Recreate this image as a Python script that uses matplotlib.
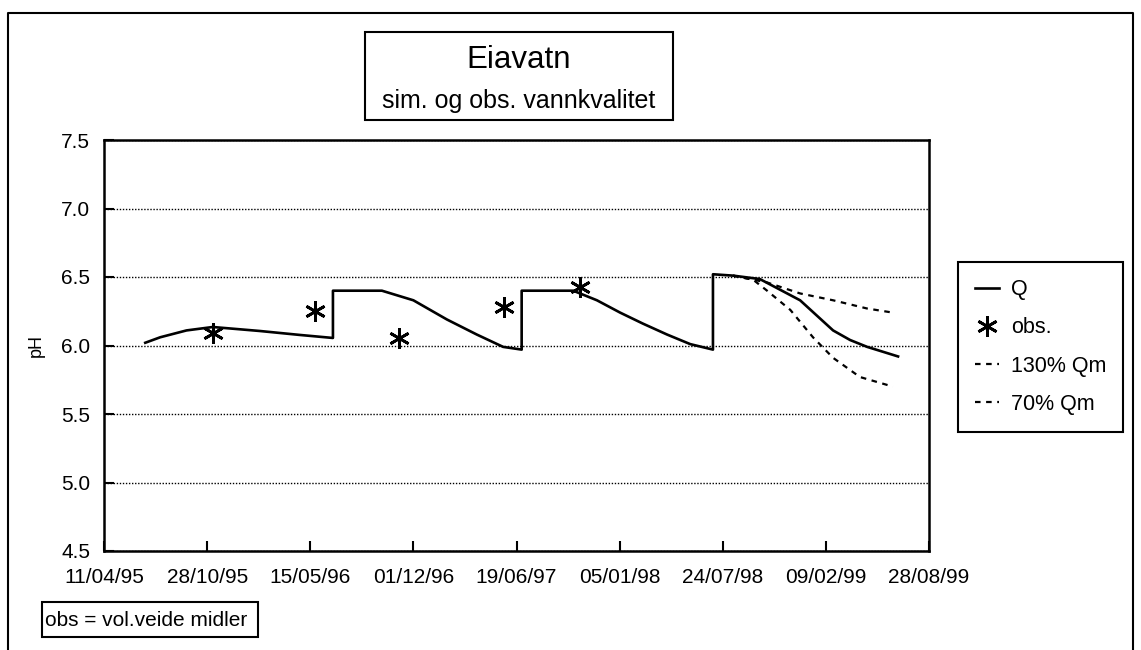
import matplotlib
matplotlib.use('Agg')
import matplotlib.pyplot as plt
import matplotlib.dates as mdates
from matplotlib.patches import Rectangle
from matplotlib.lines import Line2D
import numpy as np

plt.rcParams['font.family'] = ['Liberation Sans', 'DejaVu Sans']

# dager regnet fra 11/04/95
start = np.datetime64('1995-04-11')

q_dag = [80, 109, 160, 211, 302, 380, 444, 444, 539, 600, 665, 723, 774, 810, 810,
         910, 956, 1001, 1045, 1092, 1137, 1181, 1181, 1220, 1272, 1350, 1382, 1414, 1447, 1480, 1540]
q_ph = [6.02, 6.06, 6.11, 6.135, 6.106, 6.077, 6.055, 6.40, 6.40, 6.33, 6.19, 6.08, 5.99, 5.97, 6.40,
        6.40, 6.33, 6.24, 6.16, 6.08, 6.01, 5.97, 6.52, 6.51, 6.485, 6.33, 6.22, 6.11, 6.04, 5.99, 5.92]

q130_dag = [1220, 1286, 1350, 1414, 1480, 1530]
q130_ph = [6.51, 6.46, 6.38, 6.33, 6.27, 6.24]

q70_dag = [1220, 1259, 1286, 1331, 1375, 1414, 1466, 1530]
q70_ph = [6.51, 6.48, 6.40, 6.26, 6.06, 5.91, 5.77, 5.70]

obs_dag = [211, 409, 572, 776, 923]
obs_ph = [6.09, 6.25, 6.055, 6.28, 6.43]

tick_dag = [0, 200, 400, 600, 800, 1000, 1200, 1400, 1600]


def til_dato(dager):
    return start + np.array(dager, dtype='timedelta64[D]')


W, H = 1141, 650
fig = plt.figure(figsize=(W / 100, H / 100), dpi=100)
ax = fig.add_axes([104 / W, 1 - 551 / H, 825 / W, 411 / H])

ax.plot(til_dato(q_dag), q_ph, color='black', lw=1.9, label='Q', zorder=4)
ax.plot(til_dato(obs_dag), obs_ph, ls='none', marker=(6, 2, 0), ms=15, mew=2,
        color='black', label='obs.', zorder=5)
ax.plot(til_dato(q130_dag), q130_ph, color='black', lw=1.6, ls=(0, (2.5, 2.5)),
        label='130% Qm', zorder=3)
ax.plot(til_dato(q70_dag), q70_ph, color='black', lw=1.6, ls=(0, (2.5, 2.5)),
        label='70% Qm', zorder=3)

ax.set_ylim(4.5, 7.5)
ax.set_yticks([4.5, 5.0, 5.5, 6.0, 6.5, 7.0, 7.5])
ax.yaxis.set_major_formatter(matplotlib.ticker.FormatStrFormatter('%.1f'))
ax.set_xlim(til_dato([0])[0], til_dato([1600])[0])
ax.set_xticks(til_dato(tick_dag))
ax.xaxis.set_major_formatter(mdates.DateFormatter('%d/%m/%y'))
ax.grid(axis='y', color='black', ls=(0, (1, 1.2)), lw=1.0)
ax.tick_params(direction='in', length=7, width=1.5, labelsize=15, pad=10)
ax.tick_params(axis='x', pad=12)
for s in ax.spines.values():
    s.set_linewidth(1.8)
ax.set_ylabel('pH', fontsize=13, labelpad=12)

# ytre ramme
fig.add_artist(Line2D([8 / W, 8 / W, 1133 / W, 1133 / W], [0, 1 - 13 / H, 1 - 13 / H, 0],
                      transform=fig.transFigure, color='black', lw=1.5))

# tittelboks
fig.add_artist(Rectangle((365 / W, 1 - 120 / H), 308 / W, 88 / H, transform=fig.transFigure,
                         fill=False, ec='black', lw=1.5))
fig.text(519 / W, 1 - 60 / H, 'Eiavatn', fontsize=22.5, ha='center', va='center')
fig.text(519 / W, 1 - 101 / H, 'sim. og obs. vannkvalitet', fontsize=18, ha='center', va='center')

# merknad
fig.add_artist(Rectangle((42 / W, 1 - 637 / H), 216 / W, 35 / H, transform=fig.transFigure,
                         fill=False, ec='black', lw=1.5))
fig.text(45 / W, 1 - 620 / H, 'obs = vol.veide midler', fontsize=15, ha='left', va='center')

leg = fig.legend(loc='upper left', bbox_to_anchor=(958 / W, 1 - 262 / H), borderaxespad=0,
                 fontsize=15.5, fancybox=False, edgecolor='black', framealpha=1,
                 handlelength=1.1, handletextpad=0.55, labelspacing=0.8,
                 borderpad=0.8)
leg.get_frame().set_linewidth(1.5)

fig.savefig('out.png', dpi=100)
